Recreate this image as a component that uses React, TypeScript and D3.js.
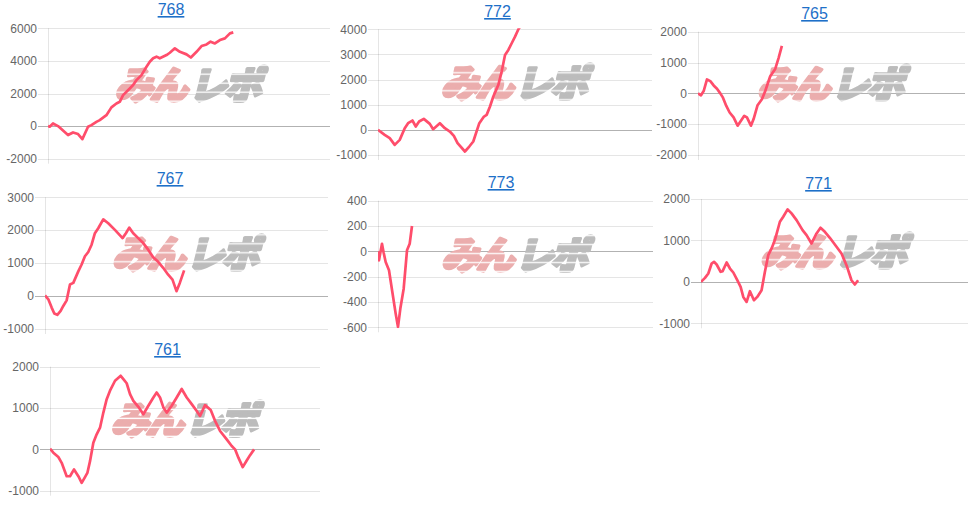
import * as d3 from 'd3';

type Pt = [number, number];

// machine numbers shown above each chart
const titles = ['768', '772', '765', '767', '773', '771', '761'];

// [games, coin difference]
const series768: Pt[] = [
  [0, 0], [47, -40], [142, 160], [284, 0], [568, -550], [710, -390], [852, -490], [975, -800],
  [1136, -40], [1231, 60], [1373, 260], [1468, 370], [1657, 670], [1799, 1150], [1941, 1390],
  [2036, 1490], [2130, 1900], [2320, 2310], [2415, 2520], [2510, 2820], [2652, 3130], [2794, 3640],
  [2888, 3950], [2983, 4160], [3078, 4260], [3172, 4160], [3362, 4360], [3456, 4500], [3599, 4770],
  [3741, 4560], [3930, 4400], [4053, 4210], [4214, 4560], [4356, 4910], [4498, 5010], [4612, 5180],
  [4735, 5070], [4877, 5280], [5019, 5380], [5161, 5690], [5256, 5750],
];
const series772: Pt[] = [
  [0, 0], [195, -199], [342, -331], [488, -596], [634, -398], [781, 66], [878, 265], [1005, 371],
  [1103, 133], [1200, 331], [1337, 437], [1513, 239], [1610, 27], [1806, 265], [1952, 66],
  [2098, -66], [2215, -239], [2323, -530], [2538, -861], [2665, -663], [2782, -464], [2958, 265],
  [3094, 530], [3172, 596], [3270, 928], [3367, 1325], [3514, 1789], [3611, 2318], [3709, 2982],
  [3806, 3180], [3904, 3445], [4001, 3710], [4099, 4000], [4148, 4100],
];
const series765: Pt[] = [
  [0, 0], [90, -64], [170, 75], [269, 450], [369, 396], [469, 257], [569, 150], [668, 0],
  [748, -139], [848, -407], [948, -621], [1067, -781], [1187, -1049], [1267, -920], [1386, -728],
  [1466, -781], [1586, -1049], [1666, -835], [1785, -385], [1915, -193], [2015, 75], [2164, 556],
  [2314, 792], [2414, 1145], [2513, 1541],
];
const series767: Pt[] = [
  [0, 20], [94, -100], [188, -350], [263, -530], [348, -570], [442, -450], [517, -300], [612, -130],
  [706, 350], [800, 400], [941, 750], [1035, 960], [1129, 1210], [1223, 1340], [1317, 1560],
  [1411, 1910], [1505, 2060], [1647, 2330], [1788, 2210], [1976, 2010], [2192, 1760], [2287, 1910],
  [2381, 2080], [2494, 1910], [2635, 1760], [2776, 1610], [2917, 1410], [3058, 1180], [3199, 1040],
  [3340, 860], [3482, 650], [3604, 500], [3717, 150], [3811, 400], [3933, 780],
];
const series773: Pt[] = [
  [0, 0], [29, -71], [68, -11], [116, 60], [165, -11], [223, -84], [320, -150], [417, -321],
  [514, -492], [582, -597], [650, -452], [747, -295], [844, 8], [922, 60], [989, 200],
];
const series771: Pt[] = [
  [0, 0], [120, 97], [219, 202], [319, 443], [389, 484], [469, 419], [588, 242], [648, 258],
  [768, 467], [868, 322], [968, 226], [1087, 40], [1187, -121], [1267, -363], [1367, -484],
  [1466, -226], [1586, -443], [1686, -363], [1815, -202], [1915, 242], [2015, 645], [2115, 806],
  [2214, 1008], [2364, 1451], [2464, 1572], [2594, 1749], [2713, 1652], [2863, 1491], [3043, 1249],
  [3162, 1128], [3312, 927], [3462, 1169], [3581, 1306], [3711, 1209], [3860, 1064], [4010, 903],
  [4210, 685], [4359, 403], [4509, 40], [4609, -64], [4708, 40],
];
const series761: Pt[] = [
  [0, 15], [99, -80], [247, -185], [346, -325], [494, -650], [593, -650], [712, -485], [840, -650],
  [939, -810], [1037, -670], [1107, -570], [1186, -285], [1284, 160], [1383, 365], [1482, 525],
  [1581, 890], [1680, 1215], [1778, 1420], [1927, 1660], [2095, 1780], [2174, 1700], [2272, 1600],
  [2371, 1335], [2470, 1175], [2618, 1030], [2766, 850], [2914, 1055], [3063, 1255], [3161, 1375],
  [3260, 1255], [3359, 1015], [3458, 890], [3606, 1055], [3754, 1255], [3902, 1460], [4051, 1255],
  [4199, 1095], [4347, 930], [4446, 810], [4594, 1070], [4762, 950], [4890, 690], [5039, 445],
  [5236, 240], [5384, 80], [5483, 0], [5582, -200], [5711, -430], [5829, -270], [5928, -140],
  [6047, 0],
];

const ticks768 = [-2000, 0, 2000, 4000, 6000];
const ticks772 = [-1000, 0, 1000, 2000, 3000, 4000];
const ticks765 = [-2000, -1000, 0, 1000, 2000];
const ticks767 = [-1000, 0, 1000, 2000, 3000];
const ticks773 = [-600, -400, -200, 0, 200, 400];
const ticks771 = [-1000, 0, 1000, 2000];
const ticks761 = [-1000, 0, 1000, 2000];

const seriesList = [series768, series772, series765, series767, series773, series771, series761];
const tickList = [ticks768, ticks772, ticks765, ticks767, ticks773, ticks771, ticks761];

const maxGames = 8000;

// panel placement on the page
const layout = [
  { tx: 171, ty: 15, l: 48, r: 330, t: 28.3, b: 158.7 },
  { tx: 497.5, ty: 17, l: 378, r: 652, t: 29.3, b: 155 },
  { tx: 814.5, ty: 19, l: 698, r: 965, t: 31.7, b: 155 },
  { tx: 170, ty: 184, l: 45, r: 328, t: 197.3, b: 329 },
  { tx: 501, ty: 188, l: 378, r: 653, t: 200.7, b: 327.3 },
  { tx: 818.5, ty: 189, l: 701, r: 968, t: 199, b: 323.3 },
  { tx: 167.5, ty: 355, l: 50, r: 320, t: 366.7, b: 490.7 },
];

const LINE = '#ff4d6b';
const FONT = '"Liberation Sans", Arial, sans-serif';

// faint logo behind every plot
function Watermark({ cx, cy }: { cx: number; cy: number }) {
  return (
    <g
      transform={`translate(${cx},${cy}) skewX(-14)`}
      mask="url(#stripes)"
      style={{ fontFamily: '"Noto Sans CJK JP", sans-serif', fontWeight: 900 }}
    >
      <text x={-1} y={13} fontSize={38} textAnchor="end" fill="#ebadad" stroke="#ebadad" strokeWidth={3.2} strokeLinejoin="round" letterSpacing={-3}>
        みん
      </text>
      <text x={3} y={13} fontSize={38} textAnchor="start" fill="#bcbcbc" stroke="#bcbcbc" strokeWidth={3.2} strokeLinejoin="round" letterSpacing={-3}>
        レポ
      </text>
    </g>
  );
}

function Panel({ i }: { i: number }) {
  const p = layout[i];
  const ticks = tickList[i];
  const data = seriesList[i];
  const x = d3.scaleLinear().domain([0, maxGames]).range([p.l, p.r]);
  const y = d3.scaleLinear().domain(d3.extent(ticks) as [number, number]).range([p.b, p.t]);
  const line = d3
    .line<Pt>()
    .x((d) => x(d[0]))
    .y((d) => y(d[1]));
  const clipId = `clip${i}`;
  return (
    <g>
      <defs>
        <clipPath id={clipId}>
          <rect x={p.l} y={p.t - 1} width={p.r - p.l} height={p.b - p.t + 2} />
        </clipPath>
      </defs>
      <text
        x={p.tx}
        y={p.ty}
        textAnchor="middle"
        fontSize={16}
        fill="#1e70c8"
        style={{ fontFamily: FONT, textDecoration: 'underline' }}
      >
        {titles[i]}
      </text>
      <line x1={p.l + 0.5} x2={p.l + 0.5} y1={p.t} y2={p.b + 5} stroke="rgba(0,0,0,0.1)" />
      {ticks.map((t) => (
        <g key={t}>
          <line
            x1={p.l - 10}
            x2={p.r}
            y1={Math.round(y(t)) + 0.5}
            y2={Math.round(y(t)) + 0.5}
            stroke={t === 0 ? 'rgba(0,0,0,0.3)' : 'rgba(0,0,0,0.1)'}
          />
          <text x={p.l - 11} y={y(t)} dy="0.35em" textAnchor="end" fontSize={12} fill="#666" style={{ fontFamily: FONT }}>
            {t}
          </text>
        </g>
      ))}
      <Watermark cx={(p.l + p.r) / 2} cy={(p.t + p.b) / 2 - 8} />
      <path d={line(data) ?? ''} fill="none" stroke={LINE} strokeWidth={2.7} strokeLinejoin="round" clipPath={`url(#${clipId})`} />
    </g>
  );
}

export default function App() {
  return (
    <svg width={974} height={505} style={{ position: 'absolute', left: 0, top: 0, background: '#fff' }}>
      <defs>
        <pattern id="stripePat" width={8} height={9} patternUnits="userSpaceOnUse">
          <rect width={8} height={9} fill="white" />
          <rect y={6} width={8} height={1.3} fill="black" />
        </pattern>
        <mask id="stripes" maskContentUnits="userSpaceOnUse">
          <rect x={-200} y={-50} width={400} height={100} fill="url(#stripePat)" />
        </mask>
      </defs>
      {titles.map((_, i) => (
        <Panel key={i} i={i} />
      ))}
    </svg>
  );
}
